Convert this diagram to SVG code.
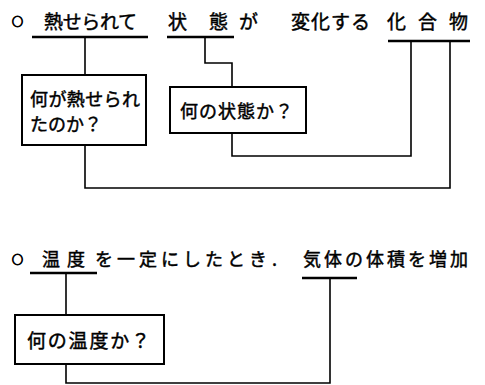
<svg xmlns="http://www.w3.org/2000/svg" width="485" height="385" viewBox="0 0 485 385">
<style>
text{font-family:"Noto Sans CJK JP","Noto Sans",sans-serif;fill:#000;stroke:#000;stroke-width:0.45}
.h{font-size:19px}
.b{font-size:18px}
.bul{font-size:11px;font-weight:bold;stroke-width:1.1}
.ul{stroke:#000;stroke-width:2.5;fill:none}
.ln{stroke:#000;stroke-width:1.6;fill:none}
.box{stroke:#000;stroke-width:2;fill:#fff}
</style>
<rect width="485" height="385" fill="#fff"/>
<g id="connectors">
<path class="ln" d="M85 37V75"/>
<path class="ln" d="M205 37V63H232V87"/>
<path class="ln" d="M232 133V156H411V41"/>
<path class="ln" d="M85 145V188H450V41"/>
<path class="ln" d="M66 273V315"/>
<path class="ln" d="M66 364V383H330V278"/>
</g>
<g id="sentence1">
<text class="bul" x="12" y="26">○</text>
<text class="h" x="44" y="29" textLength="93">熱せられて</text>
<text class="h" x="168" y="29">状</text>
<text class="h" x="209" y="29">態</text>
<text class="h" x="239" y="29">が</text>
<text class="h" x="291" y="29" textLength="79">変化する</text>
<text class="h" x="387" y="29">化</text>
<text class="h" x="418" y="29">合</text>
<text class="h" x="449" y="29">物</text>
<path class="ul" d="M32 37H148M167 37H234M388 41H470"/>
</g>
<g id="node-heated">
<rect class="box" x="22" y="75" width="124" height="70"/>
<text class="b" x="30" y="106" textLength="110">何が熱せられ</text>
<text class="b" x="30" y="131">たのか？</text>
</g>
<g id="node-state">
<rect class="box" x="170" y="87" width="136" height="46"/>
<text class="b" x="180" y="118" textLength="113">何の状態か？</text>
</g>
<g id="sentence2">
<text class="bul" x="12" y="264">○</text>
<text class="b" x="42" y="266">温</text>
<text class="b" x="67" y="266">度</text>
<text class="b" x="95" y="266" textLength="172">を一定にしたとき</text>
<text class="b" x="272" y="266">.</text>
<text class="b" x="303" y="266" textLength="165">気体の体積を増加</text>
<path class="ul" d="M30 273H97M302 278H357"/>
</g>
<g id="node-temp">
<rect class="box" x="15" y="315" width="149" height="49"/>
<text class="h" x="27" y="348" textLength="123">何の温度か？</text>
</g>
</svg>
